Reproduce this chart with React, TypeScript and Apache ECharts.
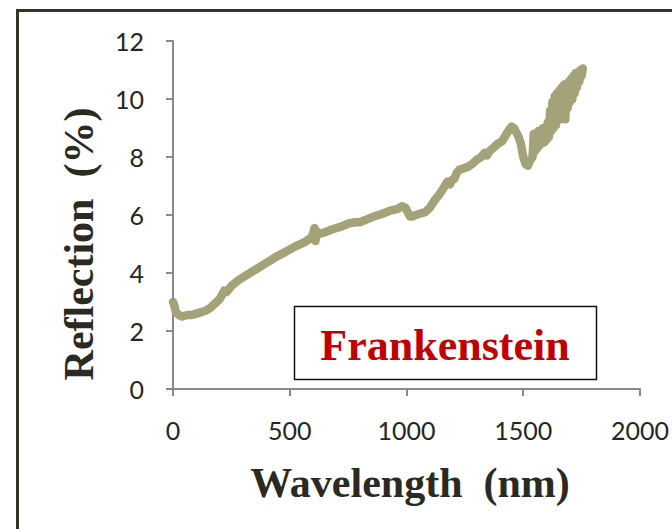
import React, { useEffect, useRef } from "react";
import * as echarts from "echarts";

const wavelengths = [
  0, 5, 12, 25, 40, 60, 80, 100, 120, 140, 160, 180, 200, 210, 220, 230, 250, 280, 320, 360,
  400, 440, 480, 520, 560, 590, 600, 606, 610, 614, 618, 625, 650, 680, 700, 720, 750, 780,
  800, 830, 860, 880, 900, 930, 960, 980, 995, 1005, 1015, 1025, 1040, 1060, 1080, 1100, 1120,
  1140, 1160, 1175, 1185, 1195, 1205, 1215, 1225, 1240, 1260, 1280, 1300, 1320, 1335, 1345,
  1355, 1370, 1390, 1410, 1425, 1440, 1450, 1460, 1470, 1480, 1490, 1500, 1510, 1520, 1530,
  1540, 1545, 1550, 1555, 1560, 1565, 1570, 1575, 1580, 1585, 1590, 1595, 1600, 1605, 1610,
  1615, 1620, 1625, 1630, 1635, 1640, 1645, 1650, 1655, 1660, 1665, 1670, 1675, 1680, 1685,
  1690, 1695, 1700, 1705, 1710, 1715, 1720, 1725, 1730, 1735, 1740, 1745, 1750, 1755,
];

const reflection = [
  3.0, 2.9, 2.65, 2.55, 2.5, 2.55, 2.55, 2.6, 2.65, 2.7, 2.8, 2.95, 3.1, 3.25, 3.4, 3.35, 3.55,
  3.75, 3.95, 4.15, 4.35, 4.55, 4.72, 4.9, 5.05, 5.2, 5.35, 5.55, 5.1, 5.45, 5.3, 5.35, 5.4,
  5.5, 5.55, 5.6, 5.7, 5.75, 5.75, 5.85, 5.95, 6.0, 6.05, 6.15, 6.2, 6.3, 6.25, 6.1, 5.95,
  5.95, 6.0, 6.05, 6.1, 6.25, 6.5, 6.7, 6.95, 7.15, 7.05, 7.2, 7.25, 7.45, 7.55, 7.6, 7.65,
  7.75, 7.9, 8.0, 8.15, 8.05, 8.2, 8.3, 8.45, 8.55, 8.75, 8.95, 9.05, 9.0, 8.85, 8.7, 8.45,
  8.0, 7.75, 7.7, 7.9, 8.0, 8.8, 8.2, 8.7, 8.3, 8.9, 8.4, 8.9, 8.5, 9.0, 8.5, 9.0, 8.6, 9.2,
  8.7, 9.6, 8.9, 9.9, 9.0, 10.1, 9.1, 10.2, 9.3, 10.3, 9.3, 10.4, 9.4, 10.5, 9.3, 10.5, 9.7,
  10.6, 9.9, 10.7, 10.0, 10.8, 10.2, 10.9, 10.4, 10.9, 10.6, 11.0, 10.8, 11.05,
];

const xTicks = [0, 500, 1000, 1500, 2000];
const yTicks = [0, 2, 4, 6, 8, 10, 12];
const xTitle = "Wavelength  (nm)";
const yTitle = "Reflection  (%)";
const sampleName = "Frankenstein";

export default function App() {
  const ref = useRef<HTMLDivElement>(null);

  useEffect(() => {
    const chart = echarts.init(ref.current!, null, { renderer: "svg" });
    const axisColor = "#898989";
    const labelFont = {
      fontFamily: "Lato, 'Open Sans', sans-serif",
      fontSize: 25,
      color: "#262620",
    };
    const serifBold = "'Liberation Serif', 'DejaVu Serif', serif";
    chart.setOption({
      animation: false,
      backgroundColor: "#ffffff",
      grid: { left: 173, right: 25, top: 41, bottom: 140, containLabel: false },
      xAxis: {
        type: "value",
        min: xTicks[0],
        max: xTicks[xTicks.length - 1],
        interval: xTicks[1] - xTicks[0],
        axisLine: { show: true, lineStyle: { color: axisColor, width: 2 } },
        axisTick: { show: true, length: 7, inside: false, lineStyle: { color: axisColor, width: 2 } },
        splitLine: { show: false },
        axisLabel: { ...labelFont, margin: 28, formatter: (v: number) => String(v) },
      },
      yAxis: {
        type: "value",
        min: yTicks[0],
        max: yTicks[yTicks.length - 1],
        interval: yTicks[1] - yTicks[0],
        axisLine: { show: true, lineStyle: { color: axisColor, width: 2 } },
        axisTick: { show: true, length: 7, inside: false, lineStyle: { color: axisColor, width: 2 } },
        splitLine: { show: false },
        axisLabel: { ...labelFont, margin: 29, formatter: (v: number) => String(v) },
      },
      series: [
        {
          type: "line",
          data: wavelengths.map((w, i) => [w, reflection[i]]),
          showSymbol: false,
          symbol: "none",
          lineStyle: { color: "#a4a279", width: 8.5, cap: "round", join: "round" },
          z: 2,
        },
      ],
      graphic: [
        {
          type: "rect",
          shape: { x: 17.5, y: 10.5, width: 720, height: 600 },
          style: { fill: "none", stroke: "#35342a", lineWidth: 3 },
          silent: true,
        },
        {
          type: "rect",
          shape: { x: 294.5, y: 306.5, width: 302, height: 73 },
          style: { fill: "#ffffff", stroke: "#111111", lineWidth: 1.5 },
          z: 10,
        },
        {
          type: "text",
          x: 445,
          y: 345,
          z: 11,
          style: {
            text: sampleName,
            fill: "#c00000",
            font: `bold 44px ${serifBold}`,
            textAlign: "center",
            textVerticalAlign: "middle",
          },
        },
        {
          type: "text",
          x: 410,
          y: 483,
          style: {
            text: xTitle,
            fill: "#2b2a22",
            font: `bold 42px ${serifBold}`,
            textAlign: "center",
            textVerticalAlign: "middle",
          },
        },
        {
          type: "text",
          x: 79,
          y: 244,
          rotation: Math.PI / 2,
          style: {
            text: yTitle,
            fill: "#2b2a22",
            font: `bold 42px ${serifBold}`,
            textAlign: "center",
            textVerticalAlign: "middle",
          },
        },
      ],
    });
    return () => chart.dispose();
  }, []);

  return (
    <div
      ref={ref}
      style={{ position: "fixed", left: 0, top: 0, width: 672, height: 529, background: "#fff" }}
    />
  );
}
